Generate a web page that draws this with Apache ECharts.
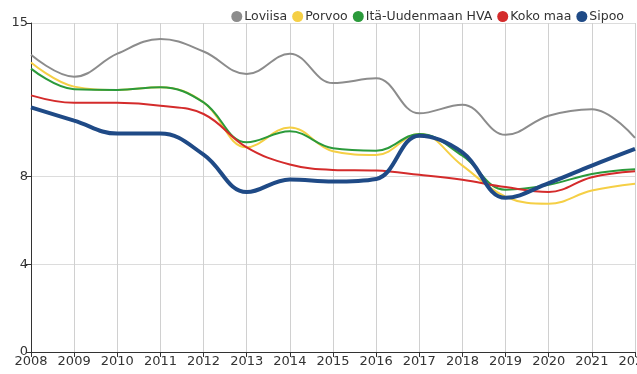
<!DOCTYPE html>
<html>
<head>
<meta charset="utf-8">
<script src="https://cdn.jsdelivr.net/npm/echarts@6/dist/echarts.min.js"></script>
<style>
  html, body { margin: 0; padding: 0; background: #fff; }
  #chart { width: 637px; height: 374px; }
</style>
</head>
<body>
<div id="chart"></div>
<script>
// Years on the horizontal axis
const years = ['2008','2009','2010','2011','2012','2013','2014','2015','2016','2017','2018','2019','2020','2021','2022'];

// Values per area
const loviisa = [13.55, 12.55, 13.6, 14.27, 13.7, 12.67, 13.6, 12.26, 12.48, 10.88, 11.27, 9.9, 10.77, 11.07, 9.76];
const porvoo  = [13.2, 12.1, 11.95, 12.07, 11.38, 9.33, 10.24, 9.15, 8.98, 9.94, 8.5, 7.08, 6.76, 7.36, 7.67];
const itaHva  = [12.92, 11.98, 11.95, 12.07, 11.38, 9.56, 10.06, 9.29, 9.18, 9.94, 8.95, 7.4, 7.62, 8.12, 8.33];
const kokoMaa = [11.7, 11.36, 11.36, 11.23, 10.85, 9.33, 8.55, 8.3, 8.27, 8.08, 7.85, 7.52, 7.3, 7.97, 8.24];
const sipoo   = [11.15, 10.55, 9.96, 9.96, 9.0, 7.29, 7.87, 7.77, 7.89, 9.86, 9.1, 7.03, 7.7, 8.5, 9.26];

// Labelled values on the vertical axis
const yTicks = [0, 4, 8, 15];

const font = 'DejaVu Sans';

function line(name, data, color, width, z) {
  return {
    name, type: 'line', data, smooth: 0.4, symbol: 'none', z,
    lineStyle: { color, width },
    itemStyle: { color }
  };
}

const chart = echarts.init(document.getElementById('chart'), null, { renderer: 'canvas' });
chart.setOption({
  animation: false,
  textStyle: { fontFamily: font },
  legend: {
    top: 5, right: 8,
    icon: 'circle', itemWidth: 11, itemHeight: 11, itemGap: 5,
    textStyle: { fontFamily: font, fontSize: 12.5, color: '#333', padding: [0, 0, 0, -3] },
    data: ['Loviisa', 'Porvoo', 'Itä-Uudenmaan HVA', 'Koko maa', 'Sipoo']
  },
  grid: { left: 31, right: 2, top: 23, bottom: 22, containLabel: false, outerBoundsMode: 'none' },
  xAxis: {
    type: 'category', data: years, boundaryGap: false,
    axisLine: { lineStyle: { color: '#333', width: 1 } },
    axisTick: { show: true, length: 5, lineStyle: { color: '#333' } },
    axisLabel: { fontFamily: font, fontSize: 13, color: '#333', margin: 3, interval: 0, hideOverlap: false },
    splitLine: { show: true, lineStyle: { color: '#d0d0d0', width: 1 } }
  },
  yAxis: {
    type: 'value', min: 0, max: 15,
    axisLine: { show: true, lineStyle: { color: '#333', width: 1 } },
    axisTick: { show: true, length: 5, customValues: yTicks, lineStyle: { color: '#333' } },
    axisLabel: { fontFamily: font, fontSize: 13, color: '#333', margin: 3, customValues: yTicks },
    splitLine: { show: true, lineStyle: { color: '#dcdcdc', width: 1 } }
  },
  series: [
    line('Loviisa', loviisa, '#8c8c8c', 2, 2),
    line('Porvoo', porvoo, '#f5cf45', 2, 3),
    line('Itä-Uudenmaan HVA', itaHva, '#2b9a3b', 2, 4),
    line('Koko maa', kokoMaa, '#d42b2b', 2, 5),
    line('Sipoo', sipoo, '#1f4a86', 4, 6)
  ]
});
</script>
</body>
</html>
